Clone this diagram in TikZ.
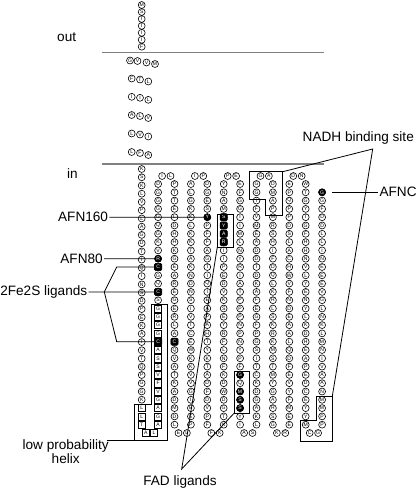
\documentclass[tikz,border=0pt]{standalone}
\usepackage{fontspec}
\setmainfont{Liberation Sans}
\usetikzlibrary{calc}

\tikzset{
  aa/.style={circle,draw,line width=0.45pt,inner sep=0pt,minimum size=5.2pt,
    font=\fontsize{3.8}{4}\selectfont},
  aabox/.style={rectangle,draw,line width=0.45pt,inner sep=0pt,minimum size=5.4pt,
    font=\fontsize{3.8}{4}\selectfont},
  aadark/.style={aa,fill=black,text=white},
  aaboxdark/.style={aabox,fill=black,text=white,rounded corners=0.9pt},
  membrane/.style={draw=black!50,line width=1pt},
  tag/.style={font=\fontsize{10.2}{10.8}\selectfont,inner sep=0.75pt},
  pointer/.style={line width=0.6pt},
  region/.style={line width=0.7pt}
}

\begin{document}
\begin{tikzpicture}[x=0.75pt,y=-0.75pt]
\useasboundingbox (0,0) rectangle (416,489);

% membrane
\draw[membrane] (101.7,52.7) -- (324,52.7);
\draw[membrane] (101.7,164) -- (324,164);
\node[tag] (out) at (66.7,37.5) {out};
\node[tag] (in) at (72.5,174) {in};

% N-terminus and membrane helix
\foreach \l [count=\k from 0] in {M,S,T,T,I,I,F}
  \node[aa] (nt\k) at (141.7,5+6.95*\k) {\l};
\foreach \l/\x/\y [count=\k] in {G/130/60.5,V/137.5/61,V/146.5/62.5,M/155/64}
  \node[aa] (tm0-\k) at (\x,\y) {\l};
\foreach \l [count=\k] in {F,T,L}
  \node[aa] (tm1-\k) at (123.4+8.3*\k,78.5+\k*\k/2-\k/2) {\l};
\foreach \l [count=\k] in {I,I,L}
  \node[aa] (tm2-\k) at (123.4+8.3*\k,96.8+\k*\k/2-\k/2) {\l};
\foreach \l [count=\k] in {A,L,V}
  \node[aa] (tm3-\k) at (123.4+8.3*\k,115+\k*\k/2-\k/2) {\l};
\foreach \l [count=\k] in {L,V,I}
  \node[aa] (tm4-\k) at (123.4+8.3*\k,133.5+\k*\k/2-\k/2) {\l};
\foreach \l [count=\k] in {L,F,A}
  \node[aa] (tm5-\k) at (123.4+8.3*\k,152+\k*\k/2-\k/2) {\l};

% cytoplasmic domain
\foreach \l [count=\k from 0] in {K,S,K,L,V,P,L,A,G,D,T,I,Q,I,N,S,D,P,E,K,A,I,V,T,Q,P,G,G,K}
  \node[aa] (c1-\k) at (141.7,169+8.24*\k) {\l};
\foreach \l [count=\k from 27] in {L,L,T}
  \node[aabox] (c1s-\k) at (141.7,184+8.3*\k) {\l};
\foreach \l [count=\k from 0] in {D,G,G,G,G,Q,G,K,V,R,C,G,Q,C,S}
  \node[aa] (c2-\k) at (158.1,184+8.3*\k) {\l};
\foreach \l [count=\k from 15] in {G,G,G,G,C,A,S,S,V,F,V,G,A,G,A}
  \node[aabox] (c2-\k) at (158.1,184+8.3*\k) {\l};
\foreach \l [count=\k from 0] in {P,T,T,E,L,D,H,H,K,G,E,A,R,E,G,E,R,L,A,C,Q,V,A,T,K,A,D,M,D,L}
  \node[aa] (c3-\k) at (174.5,184+8.3*\k) {\l};
\foreach \l [count=\k from 0] in {A,L,G,K,K,L,K,K,T,A,K,N,D,N,S,I,V,T,C,E,W,K,K,V,V,G,I,E,E,P}
  \node[aa] (c4-\k) at (190.9,184+8.3*\k) {\l};
\foreach \l [count=\k from 0] in {D,G,E,S,Y,P,F,F,A,G,T,I,Q,I,E,A,P,A,H,T,Y,K,T,A,D,F,D,V,P,F}
  \node[aa] (c5-\k) at (207.3,184+8.3*\k) {\l};
\foreach \l [count=\k from 0] in {Y,N,A,M,S,Y,A,R,I,I,P,E,D,V,K,S,E,Y,R,F,L,N,F,K,D,W,D,G,T,K}
  \node[aa] (c6-\k) at (223.7,184+8.3*\k) {\l};
\foreach \l [count=\k from 0] in {E,F,G,G,I,I,M,L,N,Y,R,I,A,T,P,P,P,N,P,N,Y,P,F,G,Q,M,S,S,Y,I}
  \node[aa] (c7-\k) at (240.1,184+8.3*\k) {\l};
\foreach \l [count=\k from 0] in {G,G,I,F,V,M,E,A,D,D,T,D,K,A,F,E,G,F,P,G,S,I,T,C,K,D,G,A,K,L}
  \node[aa] (c8-\k) at (256.5,184+8.3*\k) {\l};
\foreach \l [count=\k from 0] in {D,M,A,P,M,R,S,H,I,F,D,Q,L,K,R,L,S,K,R,K,M,S,T,M,Y,G,A,R,S,G}
  \node[aa] (c9-\k) at (272.9,184+8.3*\k) {\l};
\foreach \l [count=\k from 0] in {E,P,Q,P,P,D,S,L,A,C,H,W,V,F,N,D,E,A,A,L,Q,D,F,E,V,Y,F,M,E,E}
  \node[aa] (c10-\k) at (289.3,184+8.3*\k) {\l};
\foreach \l [count=\k from 0] in {W,T,G,Y,T,G,F,H,H,N,V,L,Y,E,N,Y,L,K,D,H,E,A,P,E,D,C,E,Y,Y,M}
  \node[aa] (c11-\k) at (305.7,184+8.3*\k) {\l};
\foreach \l [count=\k from 1] in {G,G,F,D,D,L,L,I,N,E,E,E,V,G,L,N,K,L,M,N,I,V,A,A,N,M,M,P,P}
  \node[aa] (c12-\k) at (322.1,184+8.3*\k) {\l};

% turns
\foreach \a/\b/\m [count=\i] in {I/L/166.3,I/P/199.1,P/E/231.9,G/A/264.7,D/N/297.5}{
  \node[aa] (top\i-a) at (\m-4.2,176) {\a};
  \node[aa] (top\i-b) at (\m+4.2,176) {\b};
}
\node[aabox] (bot0-a) at (145.7,433) {A};
\node[aabox] (bot0-b) at (154.1,433) {L};
\foreach \a/\b/\m [count=\i] in {E/L/182.7,F/K/215.5,A/S/248.3,K/R/281.1,C/G/313.9}{
  \node[aa] (bot\i-a) at (\m-4.2,433) {\a};
  \node[aa] (bot\i-b) at (\m+4.2,433) {\b};
}

% marked residues
\node[aadark] (afn80) at (c2-9) {R};
\node[aaboxdark] (fe1) at (c2-10) {C};
\node[aaboxdark] (fe2) at (c2-13) {C};
\node[aaboxdark] (fe3) at (c2-19) {C};
\node[aaboxdark] (fe4) at (c3-19) {C};
\node[aadark] (afn160) at (c5-4) {Y};
\foreach \l [count=\k from 4] in {S,Y,A,R}
  \node[aaboxdark] (fad\k) at (c6-\k) {\l};
\node[aadark] (fadg) at (c7-23) {G};
\foreach \l [count=\k from 25] in {M,S,S}
  \node[aadark] (fad\k) at (c7-\k) {\l};
\node[aadark] (afnc) at (c12-1) {G};

% boxed regions
\draw[region] (249.3,171.7) -- (249.3,199) -- (265.7,199) -- (265.7,215)
  -- (282.7,215) -- (282.7,171.7) coordinate (nadhne) -- cycle;
\draw[region] (134.3,404) -- (134.3,440.7) coordinate (helixsw) -- (167.3,440.7)
  -- (167.3,304.5) -- (151,304.5) -- (151,404) -- cycle;
\draw[region] (300.7,420.7) -- (300.7,441.3) -- (332.3,441.3)
  -- (332.3,396.3) coordinate (brne) -- (316,396.3) -- (316,420.7) -- cycle;
\draw[region] (217.3,214) rectangle (233.3,247);
\coordinate (syarsw) at (217.3,247);
\draw[region] (234.3,371.5) rectangle (249.3,413);
\coordinate (gmsssw) at (234.3,413);

% labels
\node[tag] (lblnadh) at (358.3,138.3) {NADH binding site};
\coordinate (nadhfork) at (372.7,149);
\draw[pointer] (nadhne) -- (nadhfork) -- (brne);

\node[tag,anchor=west] (lblafnc) at (378.3,192.3) {AFNC};
\coordinate (afncstub) at (332.3,192.3);
\draw[pointer] (afncstub) -- (lblafnc);

\node[tag,anchor=east] (lbl160) at (109.3,217.2) {AFN160};
\draw[pointer] (lbl160) -- (afn160);

\node[tag,anchor=east] (lbl80) at (104,258.7) {AFN80};
\draw[pointer] (lbl80) -- (afn80);

\node[tag,anchor=east] (lblfe) at (88.5,291.9) {2Fe2S ligands};
\coordinate (fefork) at (104.3,291.9);
\coordinate (feup) at (116.7,267);
\coordinate (fedown) at (116.7,341.7);
\draw[pointer] (lblfe) -- (fefork) -- (fe2);
\draw[pointer] (fefork) -- (feup) -- (fe1);
\draw[pointer] (fefork) -- (fedown) -- (fe3);

\node[tag,align=center] (lblhelix) at (65.7,451.5) {low probability\\helix};
\coordinate (helixtail) at (106.7,440.7);
\draw[pointer] (helixtail) -- (helixsw);

\node[tag] (lblfad) at (180,481.5) {FAD ligands};
\coordinate (fadfork) at (181.7,469);
\draw[pointer] (syarsw) -- (fadfork) -- (gmsssw);
\end{tikzpicture}
\end{document}
